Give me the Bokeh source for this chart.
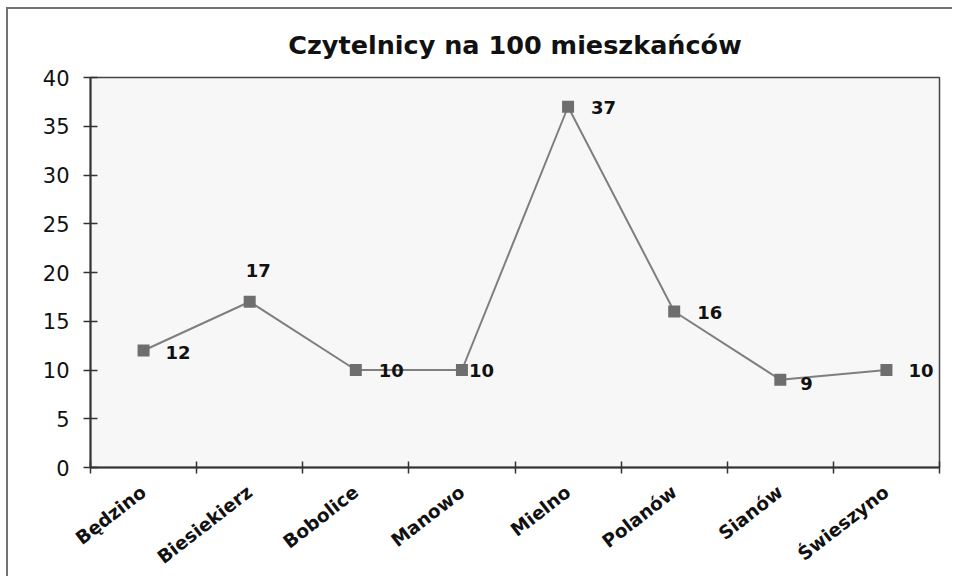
import math
from bokeh.plotting import figure
from bokeh.models import (ColumnDataSource, FactorRange, Range1d, LinearAxis,
                          CategoricalAxis, FixedTicker)
from bokeh.core.properties import value
from bokeh.embed import file_html
from bokeh.resources import INLINE

# ---- data ----
categories = ["Będzino", "Biesiekierz", "Bobolice", "Manowo",
              "Mielno", "Polanów", "Sianów", "Świeszyno"]
readers = [12, 17, 10, 10, 37, 16, 9, 10]
y_ticks = [0, 5, 10, 15, 20, 25, 30, 35, 40]
title_text = "Czytelnicy na 100 mieszkańców"

# ---- label styling (screen offsets) ----
label_dx = [22, -4, 23, 7, 23, 23, 20, 22]
label_dy = [2, -31, 0, 0, 1, 1, 4, 0]

src = ColumnDataSource(dict(
    cat=categories, val=readers, txt=[str(v) for v in readers],
    dx=label_dx, dy=label_dy))

p = figure(width=946, height=569, output_backend="svg", toolbar_location=None,
           x_range=FactorRange(*categories, range_padding=0),
           y_range=Range1d(0, 40),
           x_axis_location=None, y_axis_location=None,
           min_border_left=82, min_border_right=15,
           min_border_top=68, min_border_bottom=110)
p.styles = {"border-top": "2px solid #737373",
            "border-left": "2px solid #737373",
            "margin-left": "6px", "margin-top": "7px"}

p.title.text = title_text
p.title.align = "center"
p.title.text_font = "DejaVu Sans"
p.title.text_font_size = "25.5px"
p.title.text_font_style = "bold"
p.title.text_color = "#111111"
p.title.standoff = 36

p.background_fill_color = "#f7f7f7"
p.border_fill_color = "white"
p.outline_line_color = "#444444"
p.outline_line_width = 1.5
p.xgrid.visible = False
p.ygrid.visible = False

# y axis
yax = LinearAxis(ticker=FixedTicker(ticks=y_ticks))
yax.axis_line_color = "#333333"
yax.axis_line_width = 2
yax.major_tick_line_color = "#333333"
yax.major_tick_line_width = 1.5
yax.major_tick_in = 7
yax.major_tick_out = 7
yax.minor_tick_line_color = None
yax.major_label_standoff = 14
yax.major_label_text_font = "DejaVu Sans"
yax.major_label_text_font_size = "21px"
yax.major_label_text_color = "#111111"
p.add_layout(yax, "left")

# x ticks at category boundaries (synthetic coordinates of the factor range)
xtick = LinearAxis(ticker=FixedTicker(ticks=[],
                                      minor_ticks=list(range(len(categories) + 1))))
xtick.axis_line_color = "#333333"
xtick.axis_line_width = 2
xtick.minor_tick_line_color = "#333333"
xtick.minor_tick_line_width = 1.5
xtick.minor_tick_in = 6
xtick.minor_tick_out = 6
xtick.major_tick_line_color = None
xtick.major_label_standoff = 0
p.add_layout(xtick, "below")

# category labels
xcat = CategoricalAxis()
xcat.axis_line_color = None
xcat.major_tick_line_color = None
xcat.major_tick_in = 0
xcat.major_tick_out = 0
xcat.major_label_orientation = 0.66
xcat.major_label_standoff = 16
xcat.major_label_text_font = "DejaVu Sans"
xcat.major_label_text_font_style = "bold"
xcat.major_label_text_font_size = "18.5px"
xcat.major_label_text_color = "#111111"
p.add_layout(xcat, "below")

p.line("cat", "val", source=src, line_color="#7f7f7f", line_width=2)
p.scatter("cat", "val", source=src, marker="square", size=12,
          fill_color="#6e6e6e", line_color=None)
p.text("cat", "val", text="txt", source=src, x_offset="dx", y_offset="dy",
       text_font=value("DejaVu Sans"), text_font_style="bold",
       text_font_size="18px", text_color="#111111",
       text_align="left", text_baseline="middle")

open("out.html", "w").write(file_html(p, INLINE))
